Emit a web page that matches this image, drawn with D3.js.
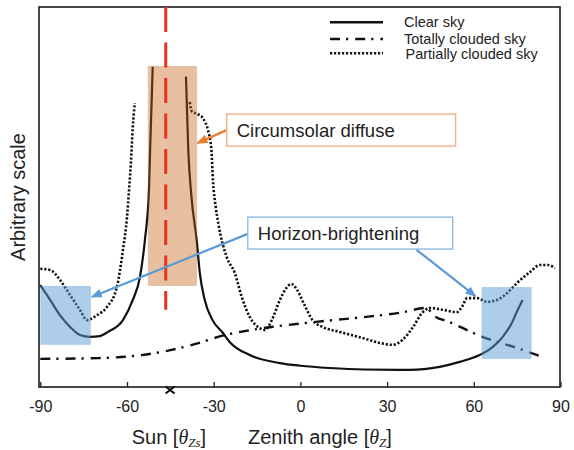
<!DOCTYPE html>
<html>
<head>
<meta charset="utf-8">
<script src="https://cdn.jsdelivr.net/npm/d3@7"></script>
<style>
  body { margin: 0; background: #fff; }
  text { font-family: "Liberation Sans", Arial, sans-serif; fill: #222; }
</style>
</head>
<body>
<svg id="chart" width="574" height="450"></svg>
<script>
// zenith angle (deg) vs relative radiance (arbitrary units 0-100)
// null value = break in the line (clear sky peak is cut off near the sun)
const clearAngle = [-90, -86.6, -83.2, -79.7, -76.3, -72.8, -69.4, -66.6, -61.4, -58.0, -55.5, -53.8, -52.4, -52.0, -51.1,
  -45,
  -39.6, -38.8, -37.7, -35.9, -34.8, -33.1, -30.4, -26.8, -24.4, -17.5, -7.1, 0, 10.1, 22, 37.8, 48.2, 55.1, 62.0, 66.5, 70.0, 73.1, 75.2, 76.9]
const clearValue = [26.8, 22.9, 18.9, 15.8, 13.7, 13.2, 13.4, 14.5, 17.6, 22.9, 29.0, 38.7, 51.8, 62.4, 84.3,
  null,
  81.7, 62.4, 50.1, 38.7, 30.0, 22.9, 17.6, 14.2, 11.8, 8.4, 6.3, 5.6, 5.0, 4.6, 4.5, 5.3, 6.6, 8.4, 10.5, 13.2, 16.8, 20.3, 22.9]

const totalAngle = [-90, -70, -55, -45, -35, -27, -20, -10, 0, 10, 22, 35, 43.6, 46, 51.6, 63, 74.8, 83.8]
const totalValue = [7.4, 7.6, 8.4, 9.7, 11.6, 13.5, 14.6, 15.8, 16.7, 17.5, 18.4, 19.6, 20.8, 18.9, 17.1, 13.2, 10.3, 7.9]

const partialAngle = [-90, -86.6, -83.2, -79.7, -76.3, -73.9, -70.4, -66.9, -63.5, -61.4, -60.0, -59.3, -58.6, -58.0, -57.3,
  -48,
  -38.3, -37.6, -35.5, -33.6, -32.0, -30.8, -30.2, -29.3, -28.4, -25.5, -22.7, -20.3, -17.5, -14.1, -12.3, -9.9, -7.1, -4.8, -3.1, -1.1,
  1.4, 4.2, 7.7, 13.6, 21.5, 27.4, 31.9, 35.3, 39.0, 42.1, 44.9, 49.4, 54.2, 55.9, 57.7, 61.1, 64.6, 68.0, 71.5, 75.0, 79.5, 82.9, 85.7, 88.1]
const partialValue = [31.1, 30.8, 28.2, 24.2, 20.3, 17.6, 18.9, 21.1, 26.3, 36.1, 44.7, 51.8, 59.7, 68.4, 74.7,
  null,
  75.0, 72.6, 71.8, 70.6, 67.6, 62.4, 53.7, 47.4, 43.0, 34.2, 30.0, 23.7, 18.4, 15.5, 15.0, 17.6, 22.9, 26.1, 27.1, 25.5,
  21.6, 17.6, 15.8, 14.5, 12.9, 11.6, 11.1, 12.4, 15.8, 19.5, 20.8, 20.3, 19.7, 21.1, 23.4, 23.4, 22.4, 22.9, 24.7, 27.4, 30.3, 32.1, 32.1, 31.3]

const xTicks = [-90, -60, -30, 0, 30, 60, 90]
const seriesNames = ['Clear sky', 'Totally clouded sky', 'Partially clouded sky']

const sunLine = -46.6   // red dashed sun direction
const sunMark = -45.1   // cross on the axis
const sunLineTop = 100
const sunLineBottom = 20.3

// shaded regions [angle0, angle1, value0, value1]
const circumsolarRegion = [-52.8, -35.8, 26.6, 84.5]
const horizonRegions = [[-90, -72.5, 11.1, 26.6], [62.7, 80.0, 7.4, 26.3]]

// label boxes [angle0, angle1, value0, value1] and arrows [fromAngle, fromValue, toAngle, toValue]
const circumsolarLabel = [-25.5, 53.7, 63.4, 71.8]
const circumsolarArrows = [[-25.5, 67.6, -35.6, 64.2]]
const horizonLabel = [-18.2, 52.7, 36.3, 44.7]
const horizonArrows = [[-18.2, 40.3, -72.2, 23.7], [40.2, 36.1, 60.6, 23.9]]

let svg = d3.select('#chart')
let x = d3.scaleLinear().domain([-90, 90]).range([40.3, 560.5])
let y = d3.scaleLinear().domain([0, 100]).range([387, 7])

let defs = svg.append('defs')
let addMarker = (id, color) => {
  defs.append('marker')
    .attr('id', id)
    .attr('markerUnits', 'userSpaceOnUse')
    .attr('markerWidth', 11).attr('markerHeight', 9)
    .attr('refX', 10).attr('refY', 4.5)
    .attr('orient', 'auto')
    .append('path')
    .attr('d', 'M0,0 L11,4.5 L0,9 Z')
    .attr('fill', color)
}
addMarker('arrowOrange', '#ed7d31')
addMarker('arrowBlue', '#5b9bd5')

// frame
svg.append('rect')
  .attr('x', 39).attr('y', 7)
  .attr('width', 521).attr('height', 380)
  .attr('fill', 'none')
  .attr('stroke', '#1a1a1a')
  .attr('stroke-width', 1.6)

// x axis with inward ticks
let xAxis = svg.append('g')
  .attr('transform', 'translate(0,387)')
  .call(d3.axisBottom(x).tickValues(xTicks).tickSize(-5).tickPadding(14).tickFormat(d => String(d)))
xAxis.select('.domain').remove()
xAxis.selectAll('line').attr('stroke', '#222').attr('stroke-width', 1.3)
xAxis.selectAll('text')
  .attr('font-family', '"Liberation Sans", Arial, sans-serif')
  .attr('font-size', 16)
  .attr('fill', '#222')

// curves
let line = d3.line()
  .defined(d => d[1] != null)
  .x(d => x(d[0]))
  .y(d => y(d[1]))
  .curve(d3.curveMonotoneX)

let styles = [
  { data: d3.zip(clearAngle, clearValue), dash: null, width: 2.2 },
  { data: d3.zip(totalAngle, totalValue), dash: '10,6,2.2,7', width: 2.4 },
  { data: d3.zip(partialAngle, partialValue), dash: '2.2,1.8', width: 2.6 }
]

svg.selectAll('.series')
  .data(styles)
  .enter()
  .append('path')
  .attr('class', 'series')
  .attr('d', d => line(d.data))
  .attr('fill', 'none')
  .attr('stroke', '#111')
  .attr('stroke-width', d => d.width)
  .attr('stroke-dasharray', d => d.dash)

// shaded regions on top of the curves
let region = (r, color, op) => {
  svg.append('rect')
    .attr('x', x(r[0]))
    .attr('y', y(r[3]))
    .attr('width', x(r[1]) - x(r[0]))
    .attr('height', y(r[2]) - y(r[3]))
    .attr('fill', color)
    .attr('fill-opacity', op)
}
region(circumsolarRegion, '#c55f11', 0.4)
horizonRegions.forEach(r => region(r, '#5b9bd5', 0.5))

// sun direction
svg.append('line')
  .attr('x1', x(sunLine)).attr('x2', x(sunLine))
  .attr('y1', y(sunLineTop)).attr('y2', y(sunLineBottom))
  .attr('stroke', '#e8311f')
  .attr('stroke-width', 3)
  .attr('stroke-dasharray', '25,10.5')

svg.append('path')
  .attr('transform', `translate(${x(sunMark)},390)`)
  .attr('d', 'M-4.5,-3.5 L4.5,3.5 M-4.5,3.5 L4.5,-3.5')
  .attr('stroke', '#111')
  .attr('stroke-width', 2.2)

// annotations
let annotate = (box, arrows, text, border, arrowColor, marker) => {
  arrows.forEach(a => {
    svg.append('line')
      .attr('x1', x(a[0])).attr('y1', y(a[1]))
      .attr('x2', x(a[2])).attr('y2', y(a[3]))
      .attr('stroke', arrowColor)
      .attr('stroke-width', 2.2)
      .attr('marker-end', `url(#${marker})`)
  })
  svg.append('rect')
    .attr('x', x(box[0]))
    .attr('y', y(box[3]))
    .attr('width', x(box[1]) - x(box[0]))
    .attr('height', y(box[2]) - y(box[3]))
    .attr('fill', '#fff')
    .attr('stroke', border)
    .attr('stroke-width', 1.4)
  svg.append('text')
    .attr('x', x(box[0]) + 10)
    .attr('y', (y(box[2]) + y(box[3])) / 2)
    .attr('dy', '0.36em')
    .attr('font-size', 18.5)
    .text(text)
}
annotate(circumsolarLabel, circumsolarArrows, 'Circumsolar diffuse', '#f4b183', '#ed7d31', 'arrowOrange')
annotate(horizonLabel, horizonArrows, 'Horizon-brightening', '#8fb9e3', '#5b9bd5', 'arrowBlue')

// legend
let legendY = [22.3, 39, 53.3]
let legendTextY = [26.7, 44.3, 59.3]
seriesNames.forEach((name, i) => {
  svg.append('line')
    .attr('x1', 330).attr('x2', 383)
    .attr('y1', legendY[i]).attr('y2', legendY[i])
    .attr('stroke', '#111')
    .attr('stroke-width', 2.4)
    .attr('stroke-dasharray', styles[i].dash)
  svg.append('text')
    .attr('x', i == 2 ? 405.5 : 404)
    .attr('y', legendTextY[i])
    .attr('font-size', 14.5)
    .text(name)
})

// axis titles
svg.append('text')
  .attr('transform', 'translate(25,197) rotate(-90)')
  .attr('text-anchor', 'middle')
  .attr('font-size', 20)
  .text('Arbitrary scale')

let mathTitle = (x0, before, sub) => {
  let t = svg.append('text').attr('x', x0).attr('y', 444).attr('font-size', 20)
  t.append('tspan').text(before)
  t.append('tspan')
    .attr('font-family', '"Liberation Serif", "DejaVu Serif", serif')
    .attr('font-style', 'italic')
    .text('θ')
  t.append('tspan')
    .attr('font-family', '"Liberation Serif", "DejaVu Serif", serif')
    .attr('font-style', 'italic')
    .attr('font-size', 13)
    .attr('dy', 3)
    .text(sub)
  t.append('tspan').attr('dy', -3).text(']')
}
mathTitle(131.7, 'Sun [', 'Zs')
mathTitle(248, 'Zenith angle [', 'Z')
</script>
</body>
</html>
